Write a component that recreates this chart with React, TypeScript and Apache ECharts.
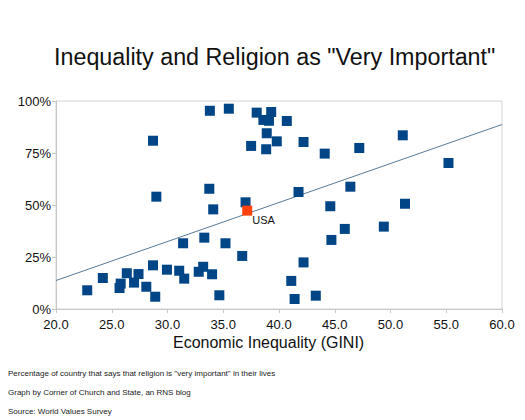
import React, { useEffect, useRef } from "react";
import * as echarts from "echarts";

const countryGini: number[] = [
  33.8, 35.5, 38.0, 39.3, 38.6, 39.1, 40.7, 38.9, 39.8, 37.5, 38.85, 42.2, 44.1, 47.2, 51.1, 55.2,
  28.7, 33.75, 29.0, 37.0, 34.1, 41.75, 46.4, 44.6, 51.3, 45.9, 49.4, 44.7, 42.2, 41.1, 41.4, 43.3,
  31.4, 33.3, 35.2, 36.7, 22.8, 24.2, 25.8, 25.7, 26.35, 27.0, 27.4, 28.1, 28.7, 28.9, 29.95, 31.05,
  31.5, 32.8, 33.2, 34.0, 34.65,
];
const countryPct: number[] = [
  95.3, 96.3, 94.4, 94.7, 90.9, 90.5, 90.4, 84.5, 80.6, 78.4, 76.8, 80.3, 74.7, 77.4, 83.5, 70.2,
  80.9, 57.8, 54.0, 51.3, 47.9, 56.25, 58.8, 49.4, 50.6, 38.5, 39.6, 33.2, 22.4, 13.5, 4.8, 6.4,
  31.6, 34.3, 31.6, 25.5, 9.0, 14.9, 12.2, 10.1, 17.2, 12.7, 16.8, 10.7, 21.0, 5.9, 18.9, 18.4,
  14.6, 17.9, 20.3, 16.7, 6.6,
];
const usaLabel = "USA";
const usaGini = 37.15;
const usaPct = 47.3;
const trendX: number[] = [20, 60];
const trendY: number[] = [13.7, 88.7];
const xTicks = { min: 20, max: 60, interval: 5 };
const yTicks = { min: 0, max: 100, interval: 25 };

const titleText = 'Inequality and Religion as "Very Important"';
const xAxisTitle = "Economic Inequality (GINI)";
const footnotes: string[] = [
  'Percentage of country that says that religion is "very important" in their lives',
  "Graph by Corner of Church and State, an RNS blog",
  "Source: World Values Survey",
];

const FONT = "'Liberation Sans', Arial, Helvetica, sans-serif";

export default function App() {
  const ref = useRef<HTMLDivElement>(null);
  useEffect(() => {
    if (!ref.current) return;
    const chart = echarts.init(ref.current, null, { renderer: "svg" });
    const footTops = [369, 388, 407];
    chart.setOption({
      animation: false,
      backgroundColor: "#ffffff",
      textStyle: { fontFamily: FONT },
      title: {
        text: titleText,
        left: 49,
        top: 40,
        textStyle: { fontSize: 23.3, fontWeight: "normal", color: "#111", fontFamily: FONT },
      },
      grid: {
        left: 56,
        right: 23,
        top: 101,
        bottom: 111,
        show: true,
        borderColor: "#d4d4d4",
        borderWidth: 1,
      },
      xAxis: {
        type: "value",
        min: xTicks.min,
        max: xTicks.max,
        interval: xTicks.interval,
        axisLine: { show: true, lineStyle: { color: "#c8c8c8" } },
        axisTick: { show: true, length: 4, lineStyle: { color: "#c8c8c8" } },
        splitLine: { show: false },
        axisLabel: {
          color: "#111",
          fontSize: 13,
          fontFamily: FONT,
          margin: 9,
          formatter: (v: number) => v.toFixed(1),
        },
      },
      yAxis: {
        type: "value",
        min: yTicks.min,
        max: yTicks.max,
        interval: yTicks.interval,
        axisLine: { show: true, lineStyle: { color: "#c8c8c8" } },
        axisTick: { show: true, length: 4, lineStyle: { color: "#c8c8c8" } },
        splitLine: { show: false },
        axisLabel: {
          color: "#111",
          fontSize: 13,
          fontFamily: FONT,
          margin: 5,
          formatter: (v: number) => v + "%",
        },
      },
      series: [
        {
          type: "line",
          data: trendX.map((x, i) => [x, trendY[i]]),
          symbol: "none",
          lineStyle: { color: "#587a96", width: 1 },
          silent: true,
          z: 1,
        },
        {
          type: "scatter",
          data: countryGini.map((x, i) => [x, countryPct[i]]),
          symbol: "rect",
          symbolSize: 10,
          itemStyle: { color: "#004586", opacity: 1 },
          z: 2,
        },
        {
          type: "scatter",
          data: [[usaGini, usaPct]],
          symbol: "rect",
          symbolSize: 10,
          itemStyle: { color: "#ff420e", opacity: 1 },
          label: {
            show: true,
            formatter: usaLabel,
            position: [10, 9],
            align: "left",
            verticalAlign: "top",
            color: "#111",
            fontSize: 11,
            fontFamily: FONT,
          },
          z: 3,
        },
      ],
      graphic: [
        {
          type: "text",
          left: 173,
          top: 334,
          style: { text: xAxisTitle, fill: "#111", font: `16px ${FONT}` },
        },
        ...footnotes.map((t, i) => ({
          type: "text",
          left: 8,
          top: footTops[i],
          style: { text: t, fill: "#222", font: `8px ${FONT}` },
        })),
      ],
    });
    return () => chart.dispose();
  }, []);
  return (
    <div
      ref={ref}
      style={{ position: "fixed", left: 0, top: 0, width: 525, height: 420 }}
    />
  );
}
